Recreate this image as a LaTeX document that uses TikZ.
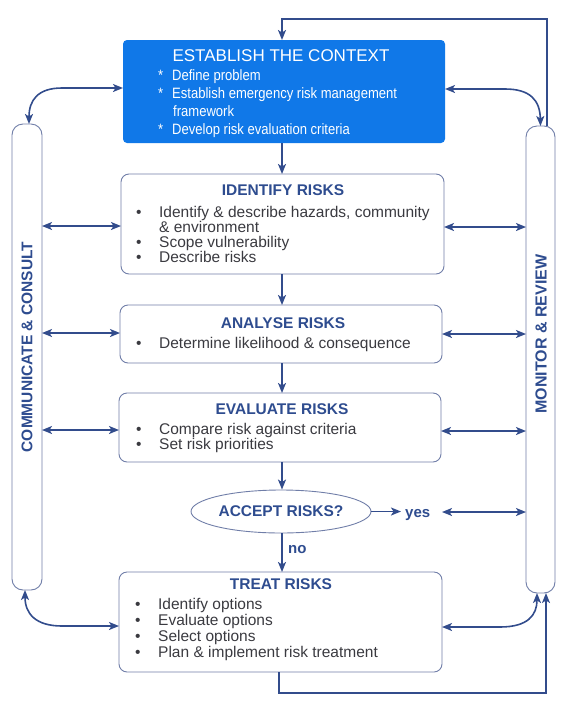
\documentclass[tikz,border=0pt]{standalone}
\usepackage{fontspec}
\setmainfont{Liberation Sans}
\newfontfamily\narrowfont[FakeStretch=0.87]{Liberation Sans}
\usetikzlibrary{arrows.meta,shapes.geometric}
\definecolor{ctxblue}{RGB}{16,120,232}
\definecolor{linecol}{RGB}{50,76,140}
\definecolor{titlecol}{RGB}{46,76,143}
\definecolor{bordercol}{RGB}{112,126,168}
\definecolor{bodycol}{RGB}{58,58,64}
\newcommand{\myb}{\makebox[23pt][l]{\textbullet}}
\newcommand{\myst}{\makebox[14pt][l]{*}}
\newcommand{\mylines}[1]{\begin{minipage}[t]{320pt}\raggedright #1\end{minipage}}
\begin{document}
\begin{tikzpicture}[x=1pt,y=-1pt,
 box/.style={draw=bordercol, line width=0.9pt, rounded corners=8pt, anchor=north west, inner sep=0pt, outer sep=0pt},
 sidebox/.style={draw=bordercol, line width=0.9pt, rounded corners=11pt, anchor=north west, inner sep=0pt, outer sep=0pt},
 ttl/.style={font=\fontsize{15.5}{15.5}\selectfont\bfseries, text=titlecol, anchor=base, inner sep=0pt},
 body/.style={text=bodycol, anchor=base west, inner sep=0pt},
 conn/.style={draw=linecol, line width=1.6pt, -{Stealth[length=10pt,width=8pt,inset=2.5pt]}},
 dconn/.style={draw=linecol, line width=1.6pt, {Stealth[length=10pt,width=8pt,inset=2.5pt]}-{Stealth[length=10pt,width=8pt,inset=2.5pt]}},
]
\useasboundingbox (0,0) rectangle (578,710);

% main boxes
\node[box, draw=none, fill=ctxblue, rounded corners=4pt, minimum width=322pt, minimum height=103pt] (ctx) at (123,40) {};
\node[anchor=base, inner sep=0pt, text=white, font=\fontsize{17}{17}\selectfont] (ctxt) at (281,61) {ESTABLISH THE CONTEXT};
\node[body, text=white, font=\narrowfont\fontsize{15}{18.3}\selectfont] (ctxb) at (158,80)
 {\mylines{\myst Define problem\\ \myst Establish emergency risk management\\ \hspace*{15pt}framework\\ \myst Develop risk evaluation criteria}};

\node[box, minimum width=323pt, minimum height=100pt] (ident) at (121,174) {};
\node[ttl] (identt) at (283,195) {IDENTIFY RISKS};
\node[body, font=\fontsize{15.5}{15.2}\selectfont] (identb) at (136,217)
 {\mylines{\myb Identify \& describe hazards, community\\ \hspace*{23pt}\& environment\\ \myb Scope vulnerability\\ \myb Describe risks}};

\node[box, minimum width=322pt, minimum height=58pt] (anal) at (120,305) {};
\node[ttl] (analt) at (283,328) {ANALYSE RISKS};
\node[body, font=\fontsize{15.5}{15.2}\selectfont] (analb) at (136,348)
 {\myb Determine likelihood \& consequence};

\node[box, minimum width=322pt, minimum height=69pt] (eval) at (119,393) {};
\node[ttl] (evalt) at (282,414) {EVALUATE RISKS};
\node[body, font=\fontsize{15.5}{15.2}\selectfont] (evalb) at (136,434)
 {\mylines{\myb Compare risk against criteria\\ \myb Set risk priorities}};

\node[draw=bordercol, line width=0.9pt, ellipse, minimum width=180pt, minimum height=43pt, inner sep=0pt,
  font=\fontsize{15.5}{15.5}\selectfont\bfseries, text=titlecol] (accept) at (281,511.5) {ACCEPT RISKS?};
\node[anchor=base west, inner sep=0pt, font=\fontsize{15}{15}\selectfont\bfseries, text=titlecol] (yes) at (405,517) {yes};
\node[anchor=base west, inner sep=0pt, font=\fontsize{15}{15}\selectfont\bfseries, text=titlecol] (no) at (288,553) {no};

\node[box, minimum width=323pt, minimum height=100pt] (treat) at (119,572) {};
\node[ttl] (treatt) at (281,589) {TREAT RISKS};
\node[body, font=\fontsize{15.5}{16}\selectfont] (treatb) at (135,609)
 {\mylines{\myb Identify options\\ \myb Evaluate options\\ \myb Select options\\ \myb Plan \& implement risk treatment}};

% side boxes
\node[sidebox, minimum width=30pt, minimum height=466pt] (comm) at (12,124) {};
\node[rotate=90, inner sep=0pt, font=\fontsize{15.5}{15.5}\selectfont\bfseries, text=titlecol] (commt) at (27,347) {COMMUNICATE \& CONSULT};
\node[sidebox, minimum width=29pt, minimum height=467pt] (mon) at (526,126) {};
\node[rotate=90, inner sep=0pt, font=\fontsize{16}{16}\selectfont\bfseries, text=titlecol] (mont) at (541,334) {MONITOR \& REVIEW};

% coordinates
\coordinate (topR) at (547,19);
\coordinate (topL) at (282,19);
\coordinate (botL) at (279,693);
\coordinate (botR) at (546,693);

% main flow
\draw[conn] (mon.north -| topR) -- (topR) -- (topL) -- (ctx.north -| topL);
\draw[conn] (ctx.south -| topL) -- (ident.north -| topL);
\draw[conn] (ident.south -| topL) -- (anal.north -| topL);
\draw[conn] (anal.south -| topL) -- (eval.north -| topL);
\draw[conn] (eval.south -| topL) -- (accept.north -| topL);
\draw[conn] (accept.south -| topL) -- (treat.north -| topL);
\draw[conn, shorten >=4pt] (accept.east) -- (yes.west |- accept.east);
\draw[dconn] (442,512) -- (mon.west |- 0,512);
\draw[conn] (treat.south -| botL) -- (botL) -- (botR) -- (mon.south -| botR);

% side arrows
\draw[dconn] (comm.east |- 0,226) -- (ident.west |- 0,226);
\draw[dconn] (ident.east |- 0,227) -- (mon.west |- 0,227);
\draw[dconn] (comm.east |- 0,333) -- (anal.west |- 0,333);
\draw[dconn] (anal.east |- 0,334) -- (mon.west |- 0,334);
\draw[dconn] (comm.east |- 0,430) -- (eval.west |- 0,430);
\draw[dconn] (eval.east |- 0,431) -- (mon.west |- 0,431);

% curved arrows
\draw[dconn] (ctx.west |- 0,88) -- (62,88) .. controls (38,88) and (29,100) .. (comm.north -| 29,0);
\draw[dconn] (ctx.east |- 0,89) -- (505,89) .. controls (530,89) and (540,100) .. (mon.north);
\draw[dconn] (treat.west |- 0,626) -- (62,626) .. controls (36,626) and (25,614) .. (comm.south -| 25,0);
\draw[dconn] (treat.east |- 0,627) -- (500,627) .. controls (528,627) and (537,615) .. (mon.south -| 537,0);
\end{tikzpicture}
\end{document}
